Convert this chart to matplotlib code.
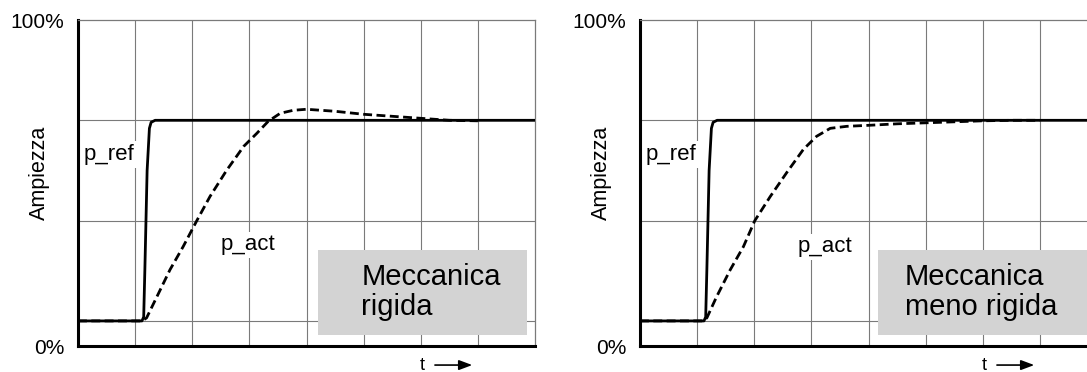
import matplotlib.pyplot as plt
from matplotlib.patches import Rectangle

plt.rcParams['font.family'] = ['Liberation Sans', 'DejaVu Sans']

# Reference position (step command), shared by both panels
t_ref = [0.0, 1.12, 1.15, 1.17, 1.21, 1.25, 1.28, 1.35, 8.0]
p_ref = [0.0, 0.0, 0.04, 0.5, 1.5, 1.92, 1.98, 2.0, 2.0]

# Actual position, rigid mechanics (slight overshoot)
t_act_rigid = [0.0, 1.12, 1.2, 1.38, 1.61, 1.84, 2.08, 2.31, 2.6, 2.9, 3.13,
               3.33, 3.54, 3.77, 4.0, 4.5, 5.0, 5.5, 6.0, 6.5, 7.0]
p_act_rigid = [0.0, 0.0, 0.03, 0.24, 0.51, 0.74, 1.0, 1.24, 1.5, 1.74, 1.87,
               1.99, 2.07, 2.1, 2.11, 2.09, 2.06, 2.04, 2.02, 2.0, 1.995]

# Actual position, less rigid mechanics (slow creep to target)
t_act_soft = [0.0, 1.1, 1.17, 1.34, 1.58, 1.81, 2.01, 2.28, 2.57, 2.86, 3.09,
              3.33, 3.62, 4.0, 4.5, 5.0, 5.5, 6.0, 6.5, 7.0]
p_act_soft = [0.0, 0.0, 0.03, 0.24, 0.51, 0.74, 1.0, 1.24, 1.48, 1.71, 1.84,
              1.92, 1.94, 1.95, 1.965, 1.975, 1.985, 1.995, 2.0, 2.0]

panel_titles = ["Meccanica\nrigida", "Meccanica\nmeno rigida"]
y_tick_labels = ["0%", "100%"]

W, H = 1087, 372
fig = plt.figure(figsize=(W / 100, H / 100), dpi=100)

ax_w = 457 / W
ax_h = 326 / H
ax_b = (H - 346) / H
lefts_px = [78, 640]

panels = [
    (t_act_rigid, p_act_rigid, (2.5, 0.76), 4.2, 4.96),
    (t_act_soft, p_act_soft, (2.75, 0.74), 4.16, 4.64),
]

grid_col = '#7a7a7a'

for i, (t_act, p_act, act_pos, box_x0, title_x) in enumerate(panels):
    ax = fig.add_axes([lefts_px[i] / W, ax_b, ax_w, ax_h])
    ax.set_xlim(0, 8)
    ax.set_ylim(-0.25, 3.0)

    # grid
    for gx in range(1, 8):
        ax.axvline(gx, color=grid_col, lw=0.8, zorder=1)
    for gy in (0, 1, 2):
        ax.axhline(gy, color=grid_col, lw=0.8, zorder=1)

    for side in ('top', 'right'):
        ax.spines[side].set_color(grid_col)
        ax.spines[side].set_linewidth(0.9)
    for side in ('left', 'bottom'):
        ax.spines[side].set_color('black')
        ax.spines[side].set_linewidth(2.2)

    ax.set_xticks([])
    ax.set_yticks([-0.25, 3.0])
    ax.set_yticklabels(y_tick_labels, fontsize=15)
    ax.tick_params(axis='y', length=0, pad=10)

    fig.text((lefts_px[i] - 38.5) / W, 1 - 172.5 / H, "Ampiezza", fontsize=15.5,
             rotation=90, ha='center', va='center')

    ax.plot(t_act, p_act, color='black', lw=2.0, linestyle=(0, (3.2, 1.6)),
            zorder=4, solid_capstyle='butt')
    ax.plot(t_ref, p_ref, color='black', lw=2.0, zorder=5,
            solid_joinstyle='round')

    ax.text(0.1, 1.66, "p_ref", fontsize=16, va='center', ha='left', zorder=3,
            bbox=dict(facecolor='white', edgecolor='none', pad=2))
    ax.text(act_pos[0], act_pos[1], "p_act", fontsize=16, va='center', ha='left',
            zorder=3, bbox=dict(facecolor='white', edgecolor='none', pad=2))

    ax.add_patch(Rectangle((box_x0, -0.14), 3.66, 0.85, facecolor='#d3d3d3',
                           edgecolor='none', zorder=3))
    ax.text(title_x, 0.285, panel_titles[i], fontsize=21,
            ha='left', va='center', zorder=4, linespacing=1.1)

    ax.text(6.02, -0.44, "t", fontsize=13, ha='center', va='center',
            clip_on=False)
    ax.annotate("", xy=(6.95, -0.44), xytext=(6.2, -0.44),
                xycoords='data', annotation_clip=False,
                arrowprops=dict(arrowstyle='-|>,head_length=0.8,head_width=0.3',
                                color='black', lw=1.2))

fig.savefig("out.png", dpi=100)
